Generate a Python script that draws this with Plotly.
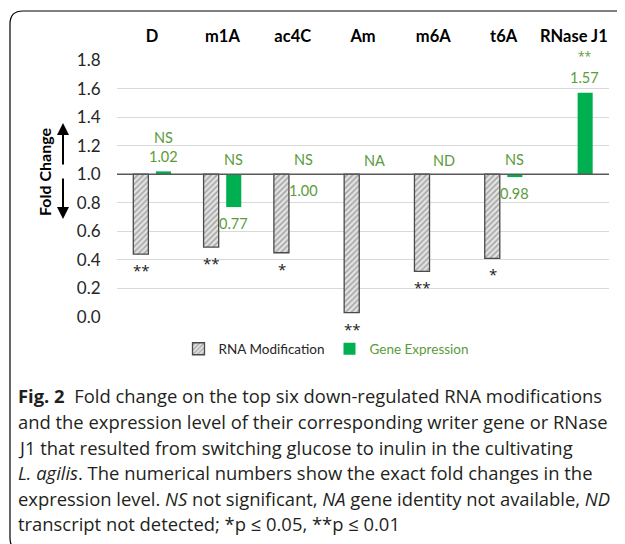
import plotly.graph_objects as go

# ---------------- data ----------------
categories = ["D", "m1A", "ac4C", "Am", "m6A", "t6A", "RNase J1"]
rna_mod = [0.44, 0.49, 0.45, 0.03, 0.32, 0.41, None]
rna_sig = ["**", "**", "*", "**", "**", "*", ""]
gene_expr = [1.02, 0.77, 1.00, None, None, 0.98, 1.57]
gene_sig = ["NS", "NS", "NS", "NA", "ND", "NS", "**"]
y_ticks = [0.0, 0.2, 0.4, 0.6, 0.8, 1.0, 1.2, 1.4, 1.6, 1.8]
baseline = 1.0

caption_lines = [
    "<b>Fig. 2</b>  Fold change on the top six down-regulated RNA modifications",
    "and the expression level of their corresponding writer gene or RNase",
    "J1 that resulted from switching glucose to inulin in the cultivating",
    "<i>L. agilis</i>. The numerical numbers show the exact fold changes in the",
    "expression level. <i>NS</i> not significant, <i>NA</i> gene identity not available, <i>ND</i>",
    "transcript not detected; *p ≤ 0.05, **p ≤ 0.01",
]

# ---------------- layout geometry ----------------
# page body adds an 8px offset, so work in window pixels and convert
OFF = 8
W, H = 625, 544
PL, PR, PT, PB = 117, 609, 60, 317   # plot area in window pixels
L, T = PL - OFF, PT - OFF
R, B = W - (PR - OFF), H - (PB - OFF)
PW, PH = W - L - R, H - T - B

def px(x):
    return (x - OFF - L) / PW

def py(y):
    return (H - B - (y - OFF)) / PH

FONT = "Lato, 'Open Sans', sans-serif"
STAR_FONT = "'Open Sans', sans-serif"
GREEN = "#00B050"
GREEN_TXT = "#5B9B3B"
DARK = "#262626"

fig = go.Figure()

fig.add_trace(go.Bar(
    x=categories,
    y=[None if v is None else v - baseline for v in rna_mod],
    base=baseline,
    name="RNA Modification",
    marker=dict(
        color="#d0d0d0",
        line=dict(color="#4a4a4a", width=1.3),
        pattern=dict(shape="/", size=4, solidity=0.4, fgcolor="#6a6a6a", bgcolor="#e3e3e3"),
    ),
    hoverinfo="skip",
))
fig.add_trace(go.Bar(
    x=categories,
    y=[None if v is None else v - baseline for v in gene_expr],
    base=baseline,
    name="<span style='color:%s'>Gene Expression</span>" % GREEN_TXT,
    marker=dict(color=GREEN, line=dict(width=0)),
    hoverinfo="skip",
))

annotations = []
# significance stars under RNA modification bars (grey bar is left slot)
for c, v, s in zip(categories, rna_mod, rna_sig):
    if v is None or not s:
        continue
    annotations.append(dict(
        x=c, y=v, xref="x", yref="y", text=s,
        showarrow=False, xshift=-11, yshift=-16, yanchor="middle",
        font=dict(family=STAR_FONT, size=15, color="#1a1a1a"),
    ))
# gene expression labels (green bar is right slot)
LBL = 14.5
for c, v, s in zip(categories, gene_expr, gene_sig):
    if v is None:
        annotations.append(dict(
            x=c, y=baseline, xref="x", yref="y", text=s, showarrow=False,
            xshift=11, yshift=14, yanchor="middle",
            font=dict(family=FONT, size=LBL, color=GREEN_TXT)))
        continue
    val_txt = "%.2f" % v
    if v > baseline:
        annotations.append(dict(
            x=c, y=v, xref="x", yref="y", text=val_txt, showarrow=False,
            xshift=11, yshift=15, yanchor="middle",
            font=dict(family=FONT, size=LBL, color=GREEN_TXT)))
        if s == "**":
            annotations.append(dict(
                x=c, y=v, xref="x", yref="y", text=s, showarrow=False,
                xshift=11, yshift=26, yanchor="bottom",
                font=dict(family=STAR_FONT, size=12, color=GREEN_TXT)))
        else:
            annotations.append(dict(
                x=c, y=v, xref="x", yref="y", text=s, showarrow=False,
                xshift=11, yshift=34, yanchor="middle",
                font=dict(family=FONT, size=LBL, color=GREEN_TXT)))
    else:
        annotations.append(dict(
            x=c, y=v, xref="x", yref="y", text=val_txt, showarrow=False,
            xshift=11, yshift=-16, yanchor="middle",
            font=dict(family=FONT, size=LBL, color=GREEN_TXT)))
        annotations.append(dict(
            x=c, y=baseline, xref="x", yref="y", text=s, showarrow=False,
            xshift=11, yshift=15, yanchor="middle",
            font=dict(family=FONT, size=LBL, color=GREEN_TXT)))

# y-axis title with arrows
annotations.append(dict(
    x=px(44), y=py(172), xref="paper", yref="paper", text="<b>Fold Change</b>",
    textangle=-90, showarrow=False, xanchor="center", yanchor="middle",
    font=dict(family=FONT, size=16, color="#000000")))
annotations.append(dict(
    x=px(63), y=py(123), xref="paper", yref="paper", ax=0, ay=43,
    axref="pixel", ayref="pixel", text="", showarrow=True, arrowhead=2,
    arrowsize=1.2, arrowwidth=2, arrowcolor="#000000"))
annotations.append(dict(
    x=px(63), y=py(219), xref="paper", yref="paper", ax=0, ay=-42,
    axref="pixel", ayref="pixel", text="", showarrow=True, arrowhead=2,
    arrowsize=1.2, arrowwidth=2, arrowcolor="#000000"))

# caption
cap_y = [395, 421, 447, 472, 498, 523]
for line, yy in zip(caption_lines, cap_y):
    annotations.append(dict(
        x=px(16), y=py(yy), xref="paper", yref="paper", text=line,
        showarrow=False, xanchor="left", yanchor="middle",
        font=dict(family="'Open Sans', 'Noto Sans', sans-serif", size=18.4, color="#231f20")))

shapes = [
    # baseline at 1.0
    dict(type="line", xref="paper", yref="y", x0=0, x1=1, y0=baseline, y1=baseline,
         line=dict(color="#595959", width=1.5), layer="above"),
    # rounded frame
    dict(type="path", xref="paper", yref="paper",
         path="M %f,%f L %f,%f Q %f,%f %f,%f L %f,%f Q %f,%f %f,%f" % (
             px(640), py(11), px(23), py(11), px(10), py(11), px(10), py(24),
             px(10), py(538), px(10), py(551), px(23), py(551)),
         line=dict(color="#000000", width=1.2)),
]

fig.update_layout(
    width=W, height=H,
    margin=dict(l=L, r=R, t=T, b=B, pad=0, autoexpand=False),
    paper_bgcolor="white", plot_bgcolor="white",
    barmode="group", bargap=0.357, bargroupgap=0.333,
    font=dict(family=FONT, size=14, color=DARK),
    showlegend=True,
    legend=dict(orientation="h", x=px(326), y=py(349), xanchor="center", yanchor="middle",
                font=dict(family=FONT, size=13.5, color=DARK), itemwidth=30,
                tracegroupgap=0, bgcolor="rgba(0,0,0,0)"),
    xaxis=dict(side="top", showgrid=False, showline=False, zeroline=False,
               automargin=False,
               ticks="outside", ticklen=10, tickcolor="rgba(0,0,0,0)",
               tickfont=dict(family=FONT, size=16.5, color="#000000"),
               tickprefix="<b>", ticksuffix="</b>"),
    yaxis=dict(range=[0, 1.8], tickvals=y_ticks, ticktext=["%.1f" % t for t in y_ticks],
               automargin=False,
               showgrid=True, gridcolor="#d9d9d9", gridwidth=1, zeroline=False,
               showline=False, ticks="outside", ticklen=12, tickcolor="rgba(0,0,0,0)",
               tickfont=dict(family=FONT, size=17, color=DARK)),
    annotations=annotations, shapes=shapes,
)

fig.write_html("out.html")
